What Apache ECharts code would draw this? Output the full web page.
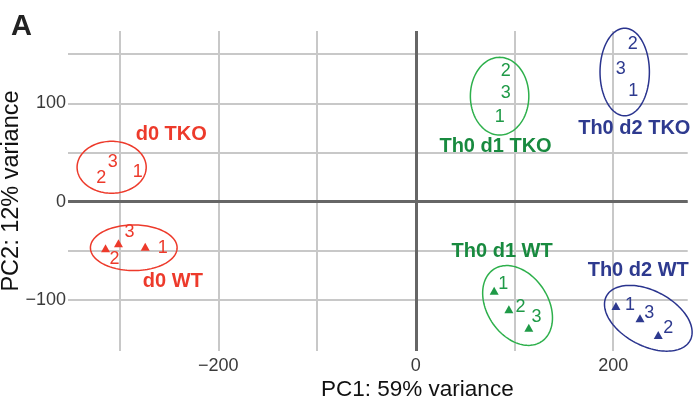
<!DOCTYPE html>
<html><head><meta charset="utf-8">
<script src="https://cdn.jsdelivr.net/npm/echarts@6/dist/echarts.min.js"></script>
<style>html,body{margin:0;padding:0;background:#fff}#c{width:696px;height:403px}</style>
</head><body><div id="c"></div>
<script>
// ---- data ----
const groups = ['d0 TKO', 'd0 WT', 'Th0 d1 TKO', 'Th0 d1 WT', 'Th0 d2 TKO', 'Th0 d2 WT'];

// triangle markers (WT samples)
const markerGroup = [1, 1, 1, 3, 3, 3, 5, 5, 5];
const markerX = [-274.0, -314.2, -301.1, 79.4, 94.3, 114.5, 202.7, 245.6, 227.1];
const markerY = [-45.8, -47.4, -42.3, -90.5, -109.5, -128.2, -106.1, -135.6, -118.6];

// sample number labels
const sampleGroup = [0, 0, 0, 1, 1, 1, 2, 2, 2, 3, 3, 3, 4, 4, 4, 5, 5, 5];
const sampleText = ['1', '2', '3', '1', '2', '3', '1', '2', '3', '1', '2', '3', '1', '2', '3', '1', '2', '3'];
const sampleX = [-281.5, -318.6, -306.8, -256.2, -305.1, -289.9, 85.1, 91.2, 91.2, 88.5, 106.1, 122.4, 220.3, 219.7, 207.5, 216.9, 255.8, 236.5];
const sampleY = [30.5, 23.8, 40.7, -46.8, -58.6, -31.1, 86.5, 133.0, 110.3, -83.7, -107.4, -117.0, 112.9, 160.1, 134.7, -105.1, -128.8, -113.5];

// confidence ellipses (centre, semi-axes in data units, rotation in degrees)
const ellCx = [-308.0, -285.6, 84.9, 103.1, 211.6, 235.5];
const ellCy = [35.0, -46.9, 107.3, -105.6, 131.9, -118.6];
const ellA = [35.0, 43.9, 29.6, 44.0, 25.0, 48.0];
const ellB = [26.4, 23.2, 39.5, 31.0, 44.5, 28.0];
const ellAngle = [0, 0, 0, -57, 0, -28];

// group label anchor points
const labelX = [-247.6, -246.0, 80.8, 87.5, 221.3, 225.3];
const labelY = [67.9, -81.4, 56.0, -50.9, 74.7, -70.2];

// axis ticks
const xGridValues = [-300, -200, -100, 0, 100, 200];
const xLabelValues = [-200, 0, 200];
const yGridValues = [-100, -50, 0, 50, 100, 150];
const yLabelValues = [-100, 0, 100];

// ---- styles ----
const textColor = ['#ed3a2b', '#ed3a2b', '#188a3f', '#188a3f', '#2e3a8f', '#2e3a8f'];
const markColor = ['#ed3a2b', '#ed3a2b', '#1f9a47', '#1f9a47', '#2e3a8f', '#2e3a8f'];
const ellColor = ['#ed3a2b', '#ed3a2b', '#2eb04c', '#2eb04c', '#2a348e', '#2a348e'];
const FONT = '"Liberation Sans", Arial, Helvetica, sans-serif';
const minus = v => String(v).replace('-', '\u2212');

const chart = echarts.init(document.getElementById('c'), null, {renderer: 'canvas'});

const ellData = groups.map((g, i) => [ellCx[i], ellCy[i], ellA[i], ellB[i], ellAngle[i], i]);

const option = {
  animation: false,
  backgroundColor: '#fff',
  graphic: [{
    type: 'text', left: 11, top: 12,
    style: {text: 'A', font: 'bold 29px ' + FONT, fill: '#222'}
  }],
  grid: {left: 68, right: 8.3, top: 31, bottom: 52, containLabel: false, outerBoundsMode: 'none'},
  xAxis: {
    type: 'value', min: -352.2, max: 275.4,
    name: 'PC1: 59% variance', nameLocation: 'middle', nameGap: 27, nameMoveOverlap: false,
    nameTextStyle: {fontFamily: FONT, fontSize: 22.5, color: '#111', padding: [0, 0, 0, 79]},
    axisLine: {show: false},
    axisTick: {show: false, customValues: xGridValues},
    axisLabel: {customValues: xLabelValues, formatter: minus, fontFamily: FONT, fontSize: 18, color: '#3a3a3a', margin: 6},
    splitLine: {show: true, lineStyle: {color: '#c8c8c8', width: 2}}
  },
  yAxis: {
    type: 'value', min: -151.9, max: 173.6,
    name: 'PC2: 12% variance', nameLocation: 'middle', nameGap: 44, nameMoveOverlap: false,
    nameTextStyle: {fontFamily: FONT, fontSize: 23.5, color: '#111'},
    axisLine: {show: false},
    axisTick: {show: false, customValues: yGridValues},
    axisLabel: {customValues: yLabelValues, formatter: minus, fontFamily: FONT, fontSize: 18, color: '#3a3a3a', margin: 2},
    splitLine: {show: true, lineStyle: {color: '#c8c8c8', width: 2}}
  },
  series: [
    {
      type: 'custom',
      z: 3,
      silent: true,
      encode: {x: 0, y: 1},
      data: ellData,
      renderItem: function (params, api) {
        const cx = api.value(0), cy = api.value(1), a = api.value(2), b = api.value(3);
        const th = api.value(4) * Math.PI / 180;
        const gi = api.value(5);
        const pts = [];
        const N = 120;
        for (let k = 0; k <= N; k++) {
          const t = 2 * Math.PI * k / N;
          const x = cx + a * Math.cos(t) * Math.cos(th) - b * Math.sin(t) * Math.sin(th);
          const y = cy + a * Math.cos(t) * Math.sin(th) + b * Math.sin(t) * Math.cos(th);
          pts.push(api.coord([x, y]));
        }
        return {type: 'polyline', shape: {points: pts}, style: {stroke: ellColor[gi], fill: null, lineWidth: 1.5, opacity: 1}};
      }
    },
    {
      type: 'scatter',
      z: 4,
      symbol: 'triangle',
      symbolSize: [9, 8],
      itemStyle: {opacity: 1},
      data: markerX.map((x, i) => ({value: [x, markerY[i]], itemStyle: {color: markColor[markerGroup[i]], opacity: 1}})),
      markLine: {
        silent: true, symbol: 'none', z: 2,
        label: {show: false},
        lineStyle: {color: '#666', width: 3, type: 'solid', opacity: 1},
        data: [{xAxis: 0}, {yAxis: 0}]
      }
    },
    {
      type: 'scatter',
      z: 5,
      symbolSize: 0,
      silent: true,
      itemStyle: {opacity: 1},
      data: sampleX.map((x, i) => ({
        value: [x, sampleY[i]],
        label: {formatter: sampleText[i], color: markColor[sampleGroup[i]]}
      })),
      label: {show: true, position: 'inside', fontFamily: FONT, fontSize: 18, opacity: 1}
    },
    {
      type: 'scatter',
      z: 5,
      symbolSize: 0,
      silent: true,
      itemStyle: {opacity: 1},
      data: labelX.map((x, i) => ({
        value: [x, labelY[i]],
        label: {formatter: groups[i], color: textColor[i]}
      })),
      label: {show: true, position: 'inside', fontFamily: FONT, fontSize: 20, fontWeight: 'bold', opacity: 1}
    }
  ]
};
chart.setOption(option);
</script>
</body></html>
